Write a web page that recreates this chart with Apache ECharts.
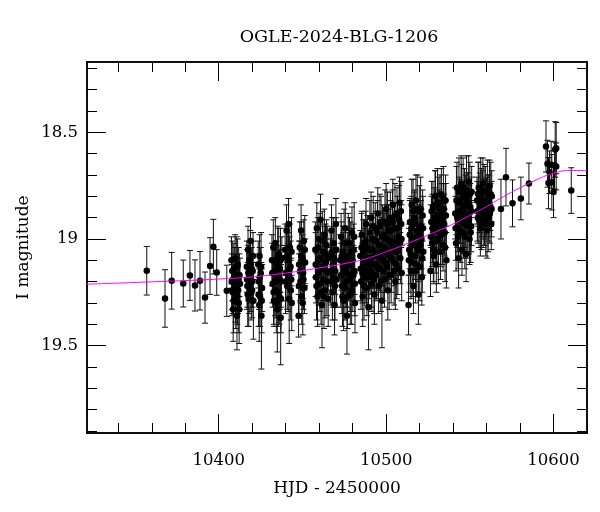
<!DOCTYPE html>
<html>
<head>
<meta charset="utf-8">
<script src="https://cdn.jsdelivr.net/npm/echarts@6/dist/echarts.min.js"></script>
<style>html,body{margin:0;padding:0;background:#fff}#c{width:600px;height:512px}</style>
</head>
<body>
<div id="c"></div>
<script>
// Photometry: [HJD-2450000, I mag, error]
const obsEarly = [
  [10357.0,19.149,0.114],[10367.9,19.279,0.135],[10371.9,19.196,0.133],[10378.8,19.209,0.110],
  [10382.8,19.171,0.117],[10385.8,19.218,0.120],[10388.8,19.196,0.137],[10391.8,19.275,0.120],
  [10394.8,19.127,0.133],[10396.8,19.036,0.128],[10398.8,19.157,0.107],[10404.8,19.243,0.120]
];
const obsSeason1 = [
  [10407.6,19.10,0.11],[10407.9,19.24,0.12],[10408.3,19.25,0.10],[10408.6,19.33,0.15],[10409.0,19.14,0.12],
  [10409.4,19.22,0.09],[10409.8,19.09,0.11],[10410.2,19.28,0.14],[10410.5,19.19,0.10],[10410.9,19.36,0.16],
  [10411.3,19.12,0.12],[10411.6,19.24,0.11],[10412.0,19.30,0.14],[10412.4,19.17,0.10],[10412.7,19.21,0.12],
  [10416.8,19.13,0.12],[10417.1,19.22,0.10],[10417.5,19.05,0.11],[10417.9,19.28,0.13],[10418.3,19.10,0.09],
  [10418.6,19.18,0.12],[10419.0,19.01,0.11],[10419.4,19.25,0.13],[10419.7,19.14,0.10],[10420.1,19.20,0.12],
  [10420.5,19.08,0.11],[10420.7,19.29,0.18],
  [10423.6,19.12,0.11],[10424.0,19.20,0.13],[10424.4,19.08,0.10],[10424.7,19.27,0.14],[10425.1,19.16,0.12],
  [10425.5,19.36,0.25],[10425.9,19.23,0.11],[10424.2,19.31,0.17],
  [10431.8,19.10,0.12],[10432.2,19.21,0.11],[10432.6,19.04,0.13],[10433.0,19.29,0.12],[10433.4,19.15,0.10],
  [10433.8,19.02,0.12],[10434.2,19.24,0.13],[10434.6,19.12,0.11],[10435.0,19.33,0.20],[10435.4,19.18,0.10],
  [10435.8,19.07,0.12],[10436.2,19.27,0.13],[10436.6,19.14,0.11],[10437.0,19.37,0.22],[10437.4,19.20,0.12],
  [10437.7,19.09,0.10],
  [10439.7,19.05,0.12],[10440.1,19.16,0.13],[10440.5,18.96,0.12],[10440.9,19.22,0.11],[10441.3,19.10,0.13],
  [10441.7,18.93,0.12],[10442.1,19.28,0.21],[10442.5,19.04,0.11],[10442.9,19.13,0.12],[10443.3,19.19,0.10],
  [10443.6,19.30,0.13],
  [10447.7,19.36,0.10],[10448.0,19.12,0.11],[10448.4,19.04,0.12],[10448.8,19.20,0.10],[10449.2,18.96,0.12],
  [10449.6,19.27,0.13],[10450.0,19.09,0.11],[10450.4,19.16,0.12],[10450.8,19.01,0.10],[10451.2,19.23,0.12],
  [10451.6,19.11,0.11],
  [10457.7,19.05,0.13],[10458.1,19.18,0.12],[10458.6,18.95,0.12],[10459.0,19.27,0.14],[10459.5,19.10,0.11],
  [10459.9,19.00,0.12],[10460.4,19.21,0.13],[10460.8,18.91,0.12],[10461.3,19.14,0.11],[10461.7,19.31,0.20],
  [10462.2,19.06,0.12],[10462.6,19.19,0.10],[10463.1,18.98,0.12],[10463.5,19.24,0.13],[10464.0,19.11,0.11],
  [10464.4,19.03,0.12],[10464.9,19.16,0.10],[10465.4,19.28,0.13],
  [10466.6,19.08,0.12],[10467.0,19.20,0.11],[10467.4,18.96,0.12],[10467.9,19.25,0.13],[10468.3,19.12,0.10],
  [10468.7,19.02,0.12],[10469.2,19.31,0.14],[10469.6,19.15,0.11],[10470.0,18.93,0.12],[10470.4,19.19,0.13],
  [10472.6,19.10,0.12],[10473.1,18.99,0.11],[10473.6,19.22,0.13],[10474.1,19.06,0.12],[10474.6,19.29,0.14],
  [10475.1,19.14,0.11],[10475.6,18.95,0.12],[10476.1,19.20,0.12],[10476.6,19.36,0.18],[10477.1,19.08,0.11],
  [10477.6,19.17,0.12],[10478.1,19.02,0.12],[10478.6,19.26,0.14],[10479.1,19.12,0.11],[10479.6,18.97,0.12],
  [10480.1,19.21,0.13],[10480.6,19.05,0.12],[10481.1,19.15,0.11],[10481.4,19.30,0.14]
];
const obsSeason1b = [
  [10407.8,19.20,0.13],[10408.1,19.15,0.14],[10408.9,19.29,0.15],[10409.6,19.17,0.13],[10410.0,19.23,0.16],
  [10410.7,19.13,0.14],[10411.1,19.27,0.13],[10411.9,19.19,0.15],[10412.2,19.33,0.16],
  [10416.9,19.19,0.14],[10417.3,19.26,0.15],[10417.7,19.16,0.13],[10418.1,19.21,0.14],[10418.9,19.12,0.16],
  [10419.2,19.19,0.15],[10419.9,19.24,0.13],[10420.3,19.15,0.14],
  [10423.8,19.26,0.15],[10424.5,19.18,0.14],[10425.3,19.13,0.16],[10425.7,19.29,0.15],
  [10432.0,19.16,0.14],[10432.8,19.25,0.15],[10433.6,19.20,0.16],[10434.4,19.30,0.14],[10435.2,19.09,0.15],
  [10435.6,19.25,0.16],[10436.4,19.19,0.14],[10436.9,19.10,0.15],[10437.2,19.28,0.16],
  [10439.9,19.20,0.15],[10440.7,19.08,0.14],[10441.5,19.18,0.16],[10442.3,19.14,0.15],[10443.0,19.24,0.14],
  [10443.5,19.06,0.16],
  [10447.9,19.22,0.15],[10448.6,19.15,0.14],[10449.4,19.08,0.16],[10450.2,19.30,0.15],[10450.6,19.19,0.14],
  [10451.4,19.05,0.16],
  [10457.9,19.12,0.15],[10458.4,19.22,0.16],[10459.2,19.04,0.14],[10459.7,19.16,0.15],[10460.6,19.09,0.16],
  [10461.1,19.25,0.15],[10461.9,19.01,0.14],[10462.4,19.13,0.16],[10462.9,19.27,0.15],[10463.8,19.07,0.14],
  [10464.6,19.20,0.16],[10465.1,19.09,0.15],
  [10466.8,19.15,0.15],[10467.6,19.06,0.16],[10468.1,19.18,0.14],[10468.9,19.09,0.15],[10469.4,19.22,0.16],
  [10470.2,19.05,0.15],
  [10472.9,19.17,0.15],[10473.4,19.08,0.16],[10473.9,19.27,0.14],[10474.4,19.12,0.15],[10474.9,19.02,0.16],
  [10475.4,19.23,0.15],[10475.9,19.09,0.14],[10476.4,19.16,0.16],[10476.9,19.27,0.15],[10477.4,19.02,0.14],
  [10477.9,19.12,0.16],[10478.4,19.19,0.15],[10478.9,19.06,0.14],[10479.4,19.24,0.16],[10479.9,19.10,0.15],
  [10480.4,19.17,0.14],[10480.9,18.99,0.16],[10481.3,19.21,0.15]
];
const obsSeason2 = [
  [10484.6,19.08,0.12],[10485.0,19.20,0.13],[10485.5,18.98,0.11],[10486.0,19.27,0.14],[10486.5,19.13,0.12],
  [10487.0,19.02,0.11],[10487.5,19.18,0.12],[10488.0,18.93,0.12],[10488.5,19.23,0.13],[10489.0,19.09,0.11],
  [10489.5,19.32,0.20],[10490.0,19.05,0.12],[10490.5,19.15,0.11],[10491.0,18.90,0.12],[10491.5,19.21,0.13],
  [10492.0,19.00,0.12],[10492.5,19.12,0.11],[10493.0,19.26,0.14],[10493.5,18.95,0.12],[10494.0,19.17,0.12],
  [10494.5,19.07,0.11],[10495.0,18.88,0.12],[10495.5,19.22,0.13],[10496.0,19.03,0.12],[10496.5,19.14,0.11],
  [10497.0,18.92,0.12],[10497.5,19.29,0.22],[10498.0,19.10,0.12],[10498.5,18.98,0.11],[10499.0,19.19,0.13],
  [10499.5,19.05,0.12],[10500.0,18.86,0.12],[10500.5,19.13,0.11],[10501.0,19.24,0.14],[10501.5,18.96,0.12],
  [10502.0,19.08,0.11],[10502.5,18.90,0.12],[10503.0,19.17,0.13],[10503.5,19.02,0.12],[10504.0,18.84,0.12],
  [10504.5,19.11,0.11],[10505.0,18.95,0.12],[10505.5,19.20,0.13],[10506.0,19.06,0.11],[10506.5,18.88,0.12],
  [10507.0,19.14,0.12],[10507.5,18.99,0.11],[10508.0,18.83,0.12],[10508.5,19.09,0.12],[10509.0,18.93,0.11],
  [10509.3,19.16,0.13],
  [10513.4,19.31,0.14],[10513.8,19.05,0.12],[10514.3,18.92,0.11],[10514.8,19.15,0.13],[10515.3,18.84,0.12],
  [10515.8,19.00,0.11],[10516.3,19.22,0.13],[10516.8,18.90,0.12],[10517.3,19.08,0.11],[10517.8,18.82,0.12],
  [10518.3,19.12,0.13],[10518.8,18.96,0.11],[10519.3,19.26,0.14],[10519.8,18.87,0.12],[10520.3,19.03,0.11],
  [10520.8,18.94,0.12],[10521.3,19.18,0.13],[10521.8,18.89,0.12],[10522.2,19.06,0.11],
  [10526.5,19.15,0.12],[10527.0,18.92,0.12],[10527.5,19.02,0.11],[10528.0,18.85,0.12],[10528.5,19.08,0.13],
  [10529.0,18.96,0.11],[10529.5,18.80,0.12],[10530.0,19.12,0.13],[10530.5,18.89,0.11],[10531.0,19.00,0.12],
  [10531.5,18.83,0.12],[10532.0,18.94,0.11],[10532.5,19.06,0.13],[10533.0,18.79,0.12],[10533.5,18.90,0.11],
  [10534.0,19.03,0.12],[10534.5,18.86,0.12],[10535.0,18.97,0.11],[10535.5,18.82,0.12],[10536.0,19.10,0.13],
  [10541.3,18.88,0.12],[10541.8,19.02,0.13],[10542.3,18.76,0.12],[10542.8,18.95,0.11],[10543.3,19.09,0.14],
  [10543.8,18.83,0.12],[10544.3,18.91,0.11],[10544.8,18.74,0.13],[10545.3,19.05,0.12],[10545.8,18.86,0.11],
  [10546.3,18.97,0.12],[10546.8,18.79,0.12],[10547.3,18.93,0.11],[10547.8,19.07,0.13],[10548.3,18.81,0.12],
  [10548.8,18.89,0.11],[10549.3,18.73,0.12],[10549.8,19.00,0.12],[10550.3,18.85,0.11],[10550.8,18.94,0.12],
  [10551.1,18.78,0.12],
  [10554.3,18.82,0.11],[10554.8,18.90,0.12],[10555.3,18.76,0.12],[10555.8,18.86,0.11],[10556.3,18.95,0.13],
  [10556.8,18.79,0.12],[10557.3,18.88,0.11],[10557.8,18.74,0.12],[10558.3,18.84,0.12],[10558.8,18.92,0.11],
  [10559.3,18.78,0.12],[10559.8,18.87,0.12],[10560.3,18.96,0.13],[10560.8,18.81,0.11],[10561.3,18.89,0.12],
  [10561.8,18.75,0.12],[10562.3,18.85,0.11],[10562.8,18.93,0.12],[10563.1,18.80,0.12]
];
const obsSeason2b = [
  [10484.8,19.14,0.15],[10485.3,19.04,0.16],[10485.8,19.16,0.14],[10486.3,19.06,0.15],[10486.8,19.22,0.16],
  [10487.3,19.10,0.15],[10487.8,19.01,0.14],[10488.3,19.15,0.16],[10488.8,19.04,0.15],[10489.3,19.18,0.14],
  [10489.8,19.12,0.16],[10490.3,18.97,0.15],[10490.8,19.09,0.14],[10491.3,19.16,0.16],[10491.8,19.05,0.15],
  [10492.3,18.94,0.14],[10492.8,19.19,0.16],[10493.3,19.08,0.15],[10493.8,19.01,0.14],[10494.3,19.12,0.16],
  [10494.8,18.97,0.15],[10495.3,19.14,0.14],[10495.8,19.08,0.16],[10496.3,18.94,0.15],[10496.8,19.20,0.14],
  [10497.3,19.06,0.16],[10497.8,18.99,0.15],[10498.3,19.15,0.14],[10498.8,19.04,0.16],[10499.3,18.92,0.15],
  [10499.8,19.11,0.14],[10500.3,19.00,0.16],[10500.8,18.93,0.15],[10501.3,19.07,0.14],[10501.8,19.17,0.16],
  [10502.3,19.01,0.15],[10502.8,18.96,0.14],[10503.3,19.09,0.16],[10503.8,18.92,0.15],[10504.3,19.04,0.14],
  [10504.8,19.15,0.16],[10505.3,18.89,0.15],[10505.8,19.01,0.14],[10506.3,19.12,0.16],[10506.8,18.95,0.15],
  [10507.3,19.05,0.14],[10507.8,18.91,0.16],[10508.3,19.02,0.15],[10508.8,18.87,0.14],[10509.2,19.00,0.16],
  [10513.6,19.10,0.15],[10514.1,18.98,0.16],[10514.6,19.07,0.14],[10515.1,18.95,0.15],[10515.6,19.11,0.16],
  [10516.1,18.87,0.15],[10516.6,19.03,0.14],[10517.1,18.93,0.16],[10517.6,19.15,0.15],[10518.1,18.99,0.14],
  [10518.6,18.86,0.16],[10519.1,19.05,0.15],[10519.6,18.98,0.14],[10520.1,19.13,0.16],[10520.6,18.86,0.15],
  [10521.1,19.00,0.14],[10521.6,19.09,0.16],[10522.0,18.95,0.15],
  [10526.7,18.99,0.15],[10527.2,18.87,0.14],[10527.7,18.95,0.16],[10528.2,19.05,0.15],[10528.7,18.90,0.14],
  [10529.2,18.84,0.16],[10529.7,19.01,0.15],[10530.2,18.93,0.14],[10530.7,18.83,0.16],[10531.2,19.06,0.15],
  [10531.7,18.91,0.14],[10532.2,18.86,0.16],[10532.7,18.98,0.15],[10533.2,18.88,0.14],[10533.7,18.96,0.16],
  [10534.2,18.81,0.15],[10534.7,18.93,0.14],[10535.2,19.04,0.16],[10535.7,18.89,0.15],
  [10541.5,18.95,0.15],[10542.0,18.82,0.16],[10542.5,18.90,0.14],[10543.0,18.99,0.15],[10543.5,18.78,0.16],
  [10544.0,18.87,0.15],[10544.5,18.97,0.14],[10545.0,18.81,0.16],[10545.5,18.92,0.15],[10546.0,18.76,0.14],
  [10546.5,18.89,0.16],[10547.0,18.99,0.15],[10547.5,18.84,0.14],[10548.0,18.77,0.16],[10548.5,18.94,0.15],
  [10549.0,18.83,0.14],[10549.5,18.91,0.16],[10550.0,18.79,0.15],[10550.5,18.97,0.14],[10551.0,18.87,0.16],
  [10554.5,18.87,0.14],[10555.0,18.79,0.15],[10555.5,18.91,0.13],[10556.0,18.83,0.14],[10556.5,18.77,0.15],
  [10557.0,18.92,0.13],[10557.5,18.82,0.14],[10558.0,18.89,0.15],[10558.5,18.78,0.13],[10559.0,18.86,0.14],
  [10559.5,18.93,0.15],[10560.0,18.84,0.13],[10560.5,18.77,0.14],[10561.0,18.91,0.15],[10561.5,18.83,0.13],
  [10562.0,18.88,0.14],[10562.5,18.79,0.15],[10563.0,18.86,0.13]
];
const obsLate = [
  [10568.6,18.860,0.140],[10571.6,18.710,0.135],[10575.5,18.833,0.110],[10580.5,18.810,0.100],
  [10585.3,18.740,0.096],
  [10595.5,18.566,0.120],[10596.4,18.647,0.110],[10597.0,18.738,0.120],[10597.6,18.687,0.100],
  [10598.6,18.652,0.110],[10599.0,18.734,0.130],[10600.0,18.780,0.120],[10600.6,18.655,0.110],
  [10601.0,18.580,0.130],[10601.6,18.574,0.120],[10601.6,18.660,0.110],
  [10610.6,18.773,0.107]
];
// Model light curve
const modelHjd = [10321,10340,10360,10380,10400,10420,10440,10460,10480,10490,10500,10510,10520,10530,10540,10550,10560,10570,10580,10590,10600,10610,10620];
const modelMag = [19.212,19.207,19.201,19.195,19.188,19.178,19.160,19.136,19.108,19.088,19.060,19.030,18.998,18.965,18.930,18.890,18.848,18.802,18.760,18.722,18.692,18.679,18.680];
// Axis ticks
const xLabels = [10400,10500,10600];
const xMinor = [10340,10360,10380,10420,10440,10460,10480,10520,10540,10560,10580,10620];
const yLabels = [18.5,19,19.5];
const yMinor = [18.2,18.3,18.4,18.6,18.7,18.8,18.9,19.1,19.2,19.3,19.4,19.6,19.7,19.8,19.9];

const obs = obsEarly.concat(obsSeason1, obsSeason1b, obsSeason2, obsSeason2b, obsLate);
const XMIN = 10321.3, XMAX = 10620, YMIN = 18.17, YMAX = 19.91;
const FONT = 'DejaVu Serif';

function xAx(pos, vals, len, labels, extra) {
  return Object.assign({
    type: 'value', position: pos, min: XMIN, max: XMAX, scale: true,
    axisLine: { show: true, onZero: false, lineStyle: { color: '#000', width: 1.5 } },
    splitLine: { show: false },
    axisTick: { show: true, inside: true, length: len, customValues: vals, lineStyle: { color: '#000', width: 1 } },
    axisLabel: labels ? { show: true, customValues: vals, margin: 19, color: '#000', fontFamily: FONT, fontSize: 16.5,
      formatter: v => String(v) } : { show: false }
  }, extra || {});
}
function yAx(pos, vals, len, labels, extra) {
  return Object.assign({
    type: 'value', position: pos, min: YMIN, max: YMAX, inverse: true, scale: true,
    axisLine: { show: true, onZero: false, lineStyle: { color: '#000', width: 1.5 } },
    splitLine: { show: false },
    axisTick: { show: true, inside: true, length: len, customValues: vals, lineStyle: { color: '#000', width: 1 } },
    axisLabel: labels ? { show: true, customValues: vals, margin: 9, color: '#000', fontFamily: FONT, fontSize: 16.5,
      formatter: v => String(Math.round(v * 10) / 10) } : { show: false }
  }, extra || {});
}

const chart = echarts.init(document.getElementById('c'), null, { renderer: 'canvas' });
chart.setOption({
  animation: false,
  backgroundColor: '#fff',
  title: {
    text: 'OGLE-2024-BLG-1206', left: 334, top: 23, textAlign: 'center',
    textStyle: { fontFamily: FONT, fontSize: 17.5, fontWeight: 'normal', color: '#000' }
  },
  grid: { left: 87, right: 13, top: 62, bottom: 79 },
  xAxis: [
    xAx('bottom', xLabels, 19, true, { name: 'HJD - 2450000', nameLocation: 'middle', nameGap: 47,
      nameMoveOverlap: false,
      nameTextStyle: { fontFamily: FONT, fontSize: 17, color: '#000' } }),
    xAx('bottom', xMinor, 10, false),
    xAx('top', xLabels, 19, false),
    xAx('top', xMinor, 10, false)
  ],
  yAxis: [
    yAx('left', yLabels, 19, true, { name: 'I magnitude', nameLocation: 'middle', nameGap: 55,
      nameMoveOverlap: false,
      nameTextStyle: { fontFamily: FONT, fontSize: 17, color: '#000' } }),
    yAx('left', yMinor, 10, false),
    yAx('right', yLabels, 19, false),
    yAx('right', yMinor, 10, false)
  ],
  series: [
    {
      type: 'custom', xAxisIndex: 0, yAxisIndex: 0, clip: true, z: 2,
      dimensions: ['x', 'y', 'e'], encode: { x: 0, y: 1 },
      data: obs,
      renderItem: function (params, api) {
        const x = api.value(0), y = api.value(1), e = api.value(2);
        const a = api.coord([x, y - e]), b = api.coord([x, y + e]);
        const w = 3;
        const st = { stroke: '#111', lineWidth: 1 };
        return { type: 'group', children: [
          { type: 'line', shape: { x1: a[0], y1: a[1], x2: b[0], y2: b[1] }, style: st },
          { type: 'line', shape: { x1: a[0] - w, y1: a[1], x2: a[0] + w, y2: a[1] }, style: st },
          { type: 'line', shape: { x1: b[0] - w, y1: b[1], x2: b[0] + w, y2: b[1] }, style: st }
        ] };
      }
    },
    {
      type: 'scatter', xAxisIndex: 0, yAxisIndex: 0, z: 3,
      symbol: 'circle', symbolSize: 6.5,
      itemStyle: { color: '#000', opacity: 1 },
      data: obs.map(d => [d[0], d[1]])
    },
    {
      type: 'line', xAxisIndex: 0, yAxisIndex: 0, z: 4,
      smooth: true, showSymbol: false, symbol: 'none',
      lineStyle: { color: '#ff00ff', width: 1 },
      data: modelHjd.map((h, i) => [h, modelMag[i]])
    }
  ]
});
</script>
</body>
</html>
